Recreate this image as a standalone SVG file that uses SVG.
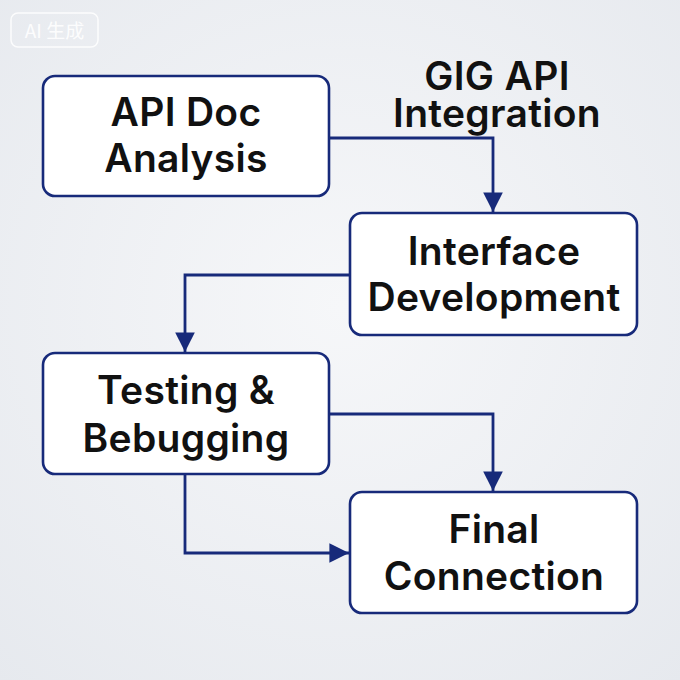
<svg xmlns="http://www.w3.org/2000/svg" width="680" height="680" viewBox="0 0 680 680">
<defs>
<radialGradient id="bg" cx="50%" cy="45%" r="75%">
<stop offset="0" stop-color="#f6f7f9"/>
<stop offset="1" stop-color="#e6e9ee"/>
</radialGradient>
<marker id="ah" viewBox="0 0 10 10" refX="10" refY="5" markerWidth="7" markerHeight="8" markerUnits="strokeWidth" orient="auto">
<path d="M0,0 L10,5 L0,10 z" fill="#172a7a"/>
</marker>
<style>
.box{fill:#ffffff;stroke:#172a7a;stroke-width:2.6}
.t{font-family:"Inter","Liberation Sans",Arial,sans-serif;font-size:39px;font-weight:600;fill:#111111;text-anchor:middle;letter-spacing:0.3px}
.c{fill:none;stroke:#172a7a;stroke-width:2.8}
</style>
</defs>
<rect width="680" height="680" fill="url(#bg)"/>
<g id="watermark">
<rect x="11" y="13" width="87" height="34" rx="7" fill="none" stroke="#ffffff" stroke-opacity="0.85" stroke-width="1.5"/>
<text x="54.5" y="37.5" font-family="Noto Sans CJK SC, Liberation Sans, sans-serif" font-size="19" fill="#ffffff" fill-opacity="0.9" text-anchor="middle">AI 生成</text>
</g>
<g id="title">
<text class="t" x="497" y="90" font-size="36" letter-spacing="0.2">GIG API</text>
<text class="t" x="497" y="127" font-size="36" letter-spacing="0.2">Integration</text>
</g>
<g id="connectors">
<path class="c" d="M329,138 H493 V212" marker-end="url(#ah)"/>
<path class="c" d="M350,275 H185 V352" marker-end="url(#ah)"/>
<path class="c" d="M329,414 H493 V491" marker-end="url(#ah)"/>
<path class="c" d="M185,474 V553 H349" marker-end="url(#ah)"/>
</g>
<g id="node1">
<rect class="box" x="43" y="76" width="286" height="120" rx="12"/>
<text class="t" x="186" y="126">API Doc</text>
<text class="t" x="186" y="172">Analysis</text>
</g>
<g id="node2">
<rect class="box" x="350" y="213" width="287" height="122" rx="12"/>
<text class="t" x="494" y="265">Interface</text>
<text class="t" x="494" y="311">Development</text>
</g>
<g id="node3">
<rect class="box" x="43" y="353" width="286" height="121" rx="12"/>
<text class="t" x="186" y="404">Testing &amp;</text>
<text class="t" x="186" y="452">Bebugging</text>
</g>
<g id="node4">
<rect class="box" x="350" y="492" width="287" height="121" rx="12"/>
<text class="t" x="494" y="543">Final</text>
<text class="t" x="494" y="590">Connection</text>
</g>
</svg>
